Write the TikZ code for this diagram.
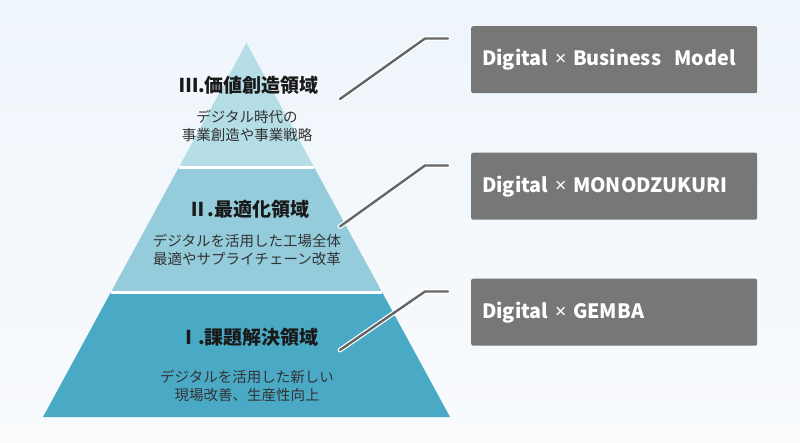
\documentclass[tikz,border=0pt]{standalone}
\usepackage{fontspec}
\setmainfont{Noto Sans CJK JP}
\newfontfamily\latinfont{Noto Sans}
\usetikzlibrary{calc}
\definecolor{bgtop}{HTML}{EEF5FB}
\definecolor{bgbottom}{HTML}{F9FBFD}
\definecolor{tierA}{HTML}{4AAAC6}
\definecolor{tierB}{HTML}{94CCDC}
\definecolor{tierC}{HTML}{B4DDE6}
\definecolor{cardgray}{HTML}{777777}
\definecolor{leadgray}{HTML}{666666}
\newcommand{\cross}{{\latinfont ×}}

\begin{document}
\begin{tikzpicture}[x=1pt, y=-1pt,
	title/.style={font=\bfseries\fontsize{19}{22}\selectfont, text=black!90},
	desc/.style={font=\fontsize{14.5}{18}\selectfont, align=center, text=black!80},
	card/.style={fill=cardgray, rounded corners=2pt, anchor=north west, minimum height=67pt, text width=264pt, inner xsep=11pt, align=left, text=white, font=\bfseries\fontsize{19.8}{24}\selectfont},
	leader/.style={draw=white, double=leadgray, double distance=2.4pt, line width=1.2pt, line cap=round, line join=round}]
	
	\shade[top color=bgtop, bottom color=bgbottom] (0,0) rectangle (800,443);
	
	\coordinate (A) at (246.5,43);
	\coordinate (BL) at (43,417);
	\coordinate (BR) at (450,417);
	\coordinate (L1) at ($(A)!1/3!(BL)$);
	\coordinate (R1) at ($(A)!1/3!(BR)$);
	\coordinate (L2) at ($(A)!2/3!(BL)$);
	\coordinate (R2) at ($(A)!2/3!(BR)$);
	
	\fill[tierC] (A) -- (R1) -- (L1) -- cycle;
	\fill[tierB] (L1) -- (R1) -- (R2) -- (L2) -- cycle;
	\fill[tierA] (L2) -- (R2) -- (BR) -- (BL) -- cycle;
	\draw[white, line width=2.5pt] (L1) -- (R1);
	\draw[white, line width=2.5pt] (L2) -- (R2);
	
	\node[title] (t3) at (249,85) {Ⅲ.価値創造領域};
	\node[desc] (d3) at (247,126) {デジタル時代の\\事業創造や事業戦略};
	\node[title] (t2) at (249,209) {Ⅱ.最適化領域};
	\node[desc] (d2) at (247,250) {デジタルを活用した工場全体\\最適やサプライチェーン改革};
	\node[title] (t1) at (249,337) {Ⅰ.課題解決領域};
	\node[desc] (d1) at (247,386) {デジタルを活用した新しい\\現場改善、生産性向上};
	
	\node[card] (bm) at (471,26) {Digital \cross{} Business\ \ Model};
	\node[card] (mono) at (471,152.5) {Digital \cross{} MONODZUKURI};
	\node[card] (gemba) at (471,278.5) {Digital \cross{} GEMBA};
	
	% leaders from the tiers to the cards
	\coordinate (s3) at (340,99);
	\coordinate (e3) at ($(bm.north west)+(-23,12.5)$);
	\coordinate (k3) at ($(e3)+(-23,0)$);
	\coordinate (s2) at (340,226.5);
	\coordinate (e2) at ($(mono.north west)+(-23,13)$);
	\coordinate (k2) at ($(e2)+(-23,0)$);
	\coordinate (s1) at (340,350);
	\coordinate (e1) at ($(gemba.north west)+(-23,13)$);
	\coordinate (k1) at ($(e1)+(-23,0)$);
	
	\draw[leader] (s3) -- (k3) -- (e3);
	\draw[leader] (s2) -- (k2) -- (e2);
	\draw[leader] (s1) -- (k1) -- (e1);
\end{tikzpicture}
\end{document}
